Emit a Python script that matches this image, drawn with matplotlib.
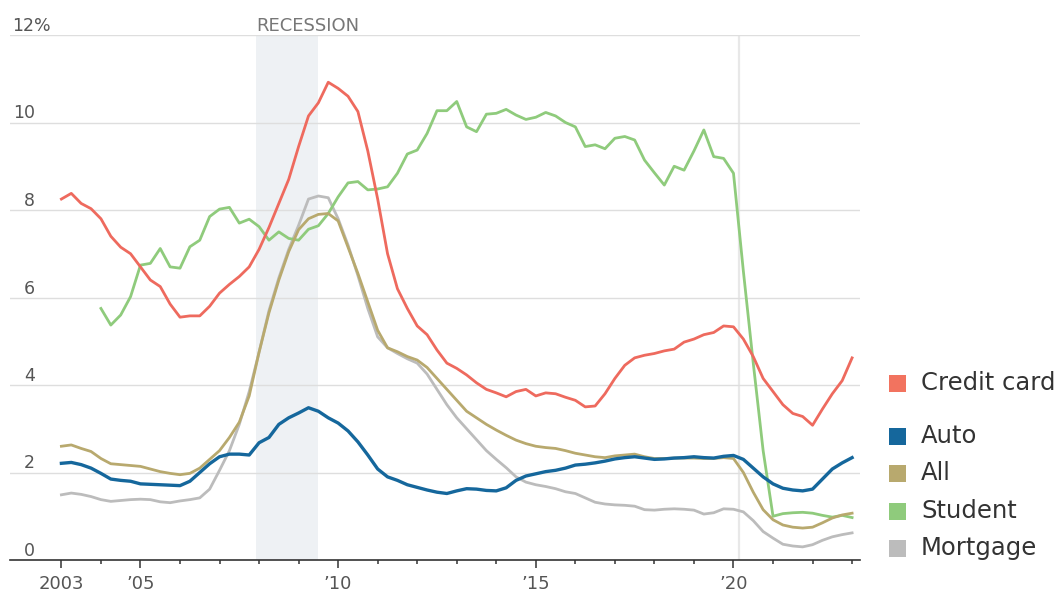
import numpy as np
import matplotlib
matplotlib.use('Agg')
import matplotlib.pyplot as plt
import matplotlib.transforms as mtransforms
from matplotlib.patches import Rectangle

# quarterly, 2003 Q1 .. 2023 Q1
quarters = np.arange(2003, 2023.01, 0.25)

credit_card = [8.25, 8.38, 8.15, 8.03,
               7.80, 7.40, 7.15, 7.00,
               6.70, 6.40, 6.25, 5.85,
               5.55, 5.58, 5.58, 5.80,
               6.10, 6.30, 6.48, 6.70,
               7.10, 7.60, 8.15, 8.70,
               9.45, 10.15, 10.45, 10.92,
               10.78, 10.60, 10.25, 9.35,
               8.25, 7.00, 6.20, 5.75,
               5.35, 5.15, 4.80, 4.50,
               4.38, 4.23, 4.05, 3.90,
               3.82, 3.73, 3.85, 3.90,
               3.75, 3.82, 3.80, 3.72,
               3.65, 3.50, 3.52, 3.80,
               4.15, 4.45, 4.62, 4.68,
               4.72, 4.78, 4.82, 4.98,
               5.05, 5.15, 5.20, 5.35,
               5.33, 5.05, 4.65, 4.15,
               3.85, 3.55, 3.35, 3.28,
               3.08, 3.45, 3.80, 4.10,
               4.62]

auto = [2.21, 2.23, 2.18, 2.10,
        1.98, 1.85, 1.82, 1.80,
        1.74, 1.73, 1.72, 1.71,
        1.70, 1.80, 2.00, 2.20,
        2.36, 2.42, 2.42, 2.40,
        2.68, 2.80, 3.10, 3.25,
        3.36, 3.48, 3.40, 3.25,
        3.13, 2.95, 2.70, 2.40,
        2.08, 1.90, 1.82, 1.72,
        1.66, 1.60, 1.55, 1.52,
        1.58, 1.63, 1.62, 1.59,
        1.58, 1.65, 1.82, 1.92,
        1.97, 2.02, 2.05, 2.10,
        2.17, 2.19, 2.22, 2.26,
        2.31, 2.34, 2.36, 2.33,
        2.30, 2.31, 2.33, 2.34,
        2.36, 2.34, 2.33, 2.37,
        2.39, 2.30, 2.10, 1.90,
        1.74, 1.64, 1.60, 1.58,
        1.62, 1.85, 2.08, 2.22,
        2.34]

all_debt = [2.60, 2.63, 2.55, 2.48,
            2.32, 2.20, 2.18, 2.16,
            2.14, 2.08, 2.02, 1.98,
            1.95, 1.98, 2.10, 2.30,
            2.50, 2.80, 3.15, 3.75,
            4.75, 5.65, 6.40, 7.05,
            7.55, 7.80, 7.90, 7.92,
            7.75, 7.15, 6.55, 5.90,
            5.25, 4.85, 4.76, 4.65,
            4.57, 4.40, 4.15, 3.90,
            3.65, 3.40, 3.25, 3.10,
            2.97, 2.85, 2.74, 2.66,
            2.60, 2.57, 2.55, 2.50,
            2.44, 2.40, 2.36, 2.34,
            2.38, 2.40, 2.42, 2.36,
            2.32, 2.32, 2.33, 2.33,
            2.33, 2.32, 2.32, 2.34,
            2.32, 2.00, 1.55, 1.15,
            0.92, 0.80, 0.75, 0.73,
            0.75, 0.85, 0.96, 1.03,
            1.07]

student = [np.nan, np.nan, np.nan, np.nan,
           5.75, 5.37, 5.60, 6.02,
           6.74, 6.78, 7.12, 6.70,
           6.67, 7.16, 7.31, 7.85,
           8.02, 8.06, 7.70, 7.79,
           7.62, 7.31, 7.50, 7.35,
           7.31, 7.56, 7.64, 7.92,
           8.30, 8.62, 8.65, 8.46,
           8.48, 8.53, 8.84, 9.28,
           9.37, 9.75, 10.27, 10.27,
           10.48, 9.90, 9.79, 10.19,
           10.21, 10.30, 10.17, 10.07,
           10.12, 10.23, 10.15, 10.00,
           9.90, 9.45, 9.49, 9.40,
           9.64, 9.68, 9.60, 9.14,
           8.85, 8.57, 9.00, 8.91,
           9.35, 9.83, 9.22, 9.18,
           8.84, 6.60, 4.50, 2.50,
           1.00, 1.06, 1.08, 1.09,
           1.07, 1.02, 0.98, 1.02,
           0.97]

mortgage = [1.49, 1.53, 1.50, 1.45,
            1.38, 1.34, 1.36, 1.38,
            1.39, 1.38, 1.33, 1.31,
            1.35, 1.38, 1.42, 1.62,
            2.05, 2.50, 3.10, 3.85,
            4.75, 5.70, 6.45, 7.10,
            7.65, 8.25, 8.32, 8.28,
            7.80, 7.20, 6.50, 5.75,
            5.10, 4.85, 4.72, 4.60,
            4.50, 4.25, 3.90, 3.55,
            3.25, 3.00, 2.75, 2.50,
            2.30, 2.11, 1.90, 1.78,
            1.72, 1.68, 1.63, 1.56,
            1.52, 1.42, 1.32, 1.28,
            1.26, 1.25, 1.23, 1.15,
            1.14, 1.16, 1.17, 1.16,
            1.14, 1.05, 1.08, 1.17,
            1.16, 1.10, 0.90, 0.65,
            0.50, 0.36, 0.32, 0.30,
            0.35, 0.45, 0.53, 0.58,
            0.62]

y_ticks = [0, 2, 4, 6, 8, 10, 12]
y_labels = ['0', '2', '4', '6', '8', '10', '12%']
x_major = [2003, 2005, 2010, 2015, 2020]
x_labels = ['2003', '\u201905', '\u201910', '\u201915', '\u201920']
recession = (2007.92, 2009.5)
covid = 2020.15

# name, values, colour, line width (drawing order = list order)
series = [
    ('Mortgage', mortgage, '#bcbcbc', 2.0),
    ('Student', student, '#8fcb7c', 2.0),
    ('All', all_debt, '#b8a96e', 2.0),
    ('Credit card', credit_card, '#ee6a5e', 2.0),
    ('Auto', auto, '#15679c', 2.4),
]

W, H = 1062, 608
fig = plt.figure(figsize=(W / 100, H / 100), dpi=100)
ax = fig.add_axes([10 / W, 1 - 560 / H, 850 / W, 525 / H])

ax.set_xlim(2001.7, 2023.2)
ax.set_ylim(0, 12)

ax.axvspan(*recession, color='#eef1f4', lw=0, zorder=0)
ax.axvline(covid, color='#e8e8e8', lw=1.6, zorder=0.5)

for v in y_ticks[1:]:
    ax.axhline(v, color='#dedede', lw=1, zorder=0.6)

for i, (name, vals, col, lw) in enumerate(series):
    ax.plot(quarters, vals, color=col, lw=lw, zorder=2 + i, solid_joinstyle='round')

for s in ['top', 'right', 'left']:
    ax.spines[s].set_visible(False)
ax.spines['bottom'].set_color('#333333')
ax.spines['bottom'].set_linewidth(1.2)

# y labels sit just above their gridlines
ax.set_yticks([])
ytrans = mtransforms.offset_copy(ax.get_yaxis_transform(), fig=fig, y=4, units='dots')
for v, lab in zip(y_ticks, y_labels):
    if lab.endswith('%'):
        ax.text(2 / 850, v, lab, transform=ytrans, ha='left', va='baseline',
                fontsize=12.5, color='#555555')
    else:
        ax.text(25 / 850, v, lab, transform=ytrans, ha='right', va='baseline',
                fontsize=12.5, color='#555555')

xtrans = mtransforms.offset_copy(ax.get_xaxis_transform(), fig=fig, y=4, units='dots')
ax.text(recession[0], 1.0, 'RECESSION', transform=xtrans, ha='left', va='baseline',
        fontsize=13, color='#777777')

ax.set_xticks(x_major)
ax.set_xticklabels(x_labels, fontsize=13, color='#555555')
ax.set_xticks(np.arange(2003, 2024), minor=True)
ax.tick_params(axis='x', which='major', length=6, width=1.1, color='#333333', pad=5)
ax.tick_params(axis='x', which='minor', length=3, width=1.1, color='#333333')

# legend, placed in figure pixels
legend_items = [('Credit card', '#f2735f', 383),
                ('Auto', '#15679c', 436),
                ('All', '#b8a96e', 473),
                ('Student', '#8fcb7c', 511),
                ('Mortgage', '#bcbcbc', 548)]
for name, col, yc in legend_items:
    fig.add_artist(Rectangle((889 / W, 1 - (yc + 8.5) / H), 17 / W, 17 / H,
                             transform=fig.transFigure, color=col, lw=0))
    fig.text(921 / W, 1 - yc / H, name, ha='left', va='center',
             fontsize=17.5, color='#333333')

fig.savefig('out.png', dpi=100)
